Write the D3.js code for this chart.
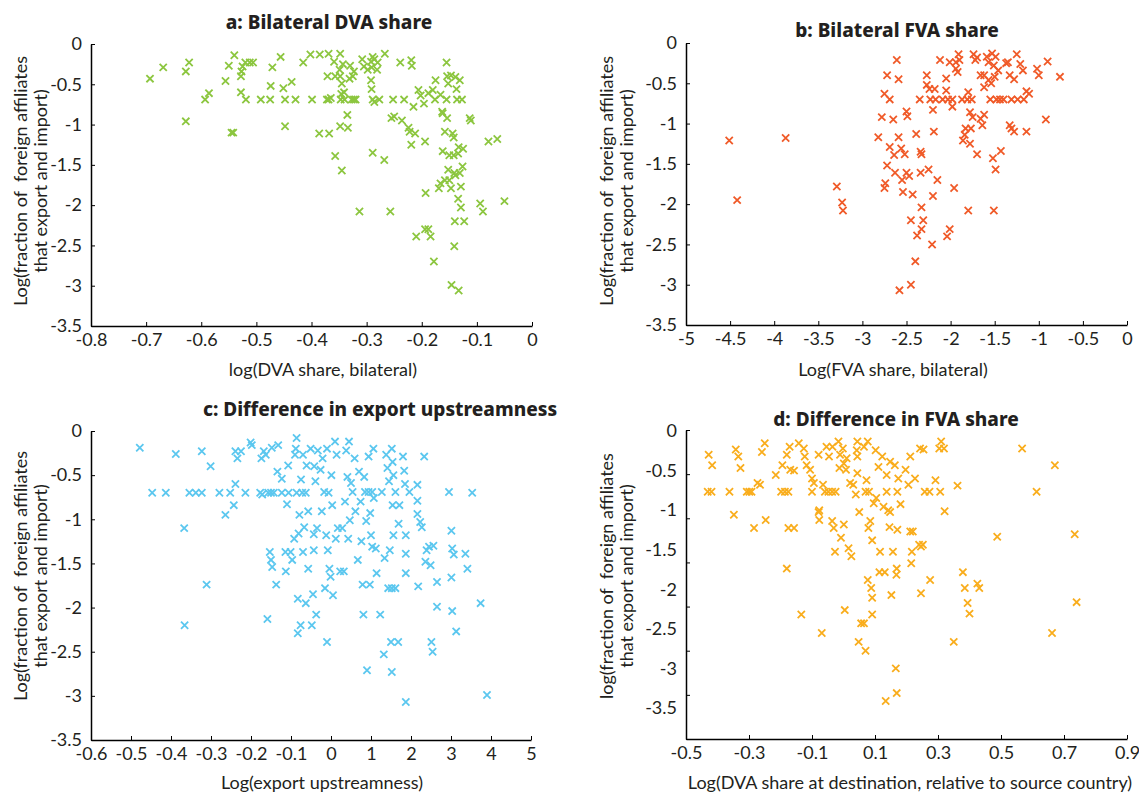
<!DOCTYPE html>
<html>
<head>
<meta charset="utf-8">
<script src="https://cdn.jsdelivr.net/npm/d3@7"></script>
<style>
  body { margin: 0; background: #fff; }
  text { font-family: Lato, "Noto Sans", sans-serif; fill: #231f20; }
</style>
</head>
<body>
<script>
// values (log scale values)
var dvaBilateral = [
  [-0.693,-0.43],[-0.669,-0.29],[-0.628,-0.34],[-0.622,-0.23],[-0.628,-0.96],[-0.593,-0.69],[-0.586,-0.61],[-0.556,-0.46],
  [-0.550,-0.27],[-0.540,-0.14],[-0.545,-1.10],[-0.542,-1.10],[-0.528,-0.40],[-0.527,-0.34],[-0.528,-0.60],[-0.525,-0.28],
  [-0.520,-0.23],[-0.519,-0.69],[-0.512,-0.23],[-0.506,-0.23],[-0.492,-0.69],[-0.475,-0.69],[-0.474,-0.52],[-0.471,-0.29],
  [-0.456,-0.16],[-0.451,-0.55],[-0.448,-0.69],[-0.448,-1.02],[-0.436,-0.47],[-0.429,-0.69],[-0.415,-0.23],[-0.402,-0.13],
  [-0.399,-0.69],[-0.385,-0.13],[-0.386,-1.11],[-0.369,-0.12],[-0.371,-0.40],[-0.368,-1.11],[-0.372,-0.69],[-0.369,-0.69],
  [-0.365,-0.67],[-0.359,-0.22],[-0.357,-0.40],[-0.357,-1.39],[-0.348,-0.12],[-0.349,-0.32],[-0.348,-0.40],[-0.346,-0.62],
  [-0.347,-0.69],[-0.345,-0.49],[-0.348,-1.02],[-0.345,-1.57],[-0.343,-0.25],[-0.341,-0.60],[-0.340,-0.69],[-0.335,-0.88],
  [-0.334,-1.04],[-0.331,-0.43],[-0.330,-0.27],[-0.325,-0.40],[-0.323,-0.34],[-0.327,-0.69],[-0.323,-0.69],[-0.320,-0.69],
  [-0.313,-2.08],[-0.308,-0.19],[-0.305,-0.28],[-0.298,-0.32],[-0.292,-0.22],[-0.289,-0.16],[-0.286,-0.19],[-0.291,-0.29],
  [-0.292,-0.45],[-0.291,-0.56],[-0.289,-0.69],[-0.286,-0.72],[-0.289,-1.35],[-0.280,-0.23],[-0.281,-0.32],[-0.277,-0.69],
  [-0.268,-1.44],[-0.267,-0.12],[-0.257,-2.08],[-0.252,-0.69],[-0.255,-0.92],[-0.250,-0.90],[-0.239,-0.23],[-0.236,-0.95],
  [-0.232,-0.69],[-0.224,-1.04],[-0.222,-1.09],[-0.219,-0.20],[-0.218,-0.27],[-0.219,-1.25],[-0.215,-0.78],[-0.212,-1.11],
  [-0.210,-2.39],[-0.206,-0.57],[-0.202,-0.64],[-0.196,-0.74],[-0.194,-1.21],[-0.193,-1.85],[-0.194,-2.30],[-0.188,-2.30],
  [-0.184,-2.39],[-0.188,-0.61],[-0.180,-0.57],[-0.176,-0.69],[-0.175,-0.45],[-0.178,-2.70],[-0.169,-1.79],[-0.166,-1.73],
  [-0.166,-0.63],[-0.163,-0.84],[-0.162,-0.86],[-0.162,-1.33],[-0.158,-1.09],[-0.158,-1.69],[-0.155,-0.23],[-0.154,-0.40],
  [-0.152,-0.49],[-0.155,-0.69],[-0.154,-0.92],[-0.152,-1.56],[-0.150,-1.69],[-0.147,-1.79],[-0.150,-1.38],[-0.147,-0.39],
  [-0.146,-2.99],[-0.144,-1.11],[-0.142,-1.16],[-0.142,-1.38],[-0.141,-1.60],[-0.139,-1.63],[-0.140,-2.20],[-0.141,-2.51],
  [-0.139,-0.41],[-0.137,-0.56],[-0.136,-0.69],[-0.134,-1.36],[-0.133,-1.28],[-0.134,-1.92],[-0.133,-3.06],[-0.131,-0.45],
  [-0.131,-1.60],[-0.129,-2.03],[-0.129,-1.77],[-0.127,-0.69],[-0.126,-1.52],[-0.125,-1.30],[-0.123,-2.20],[-0.113,-0.92],
  [-0.111,-0.95],[-0.094,-1.98],[-0.089,-2.08],[-0.079,-1.21],[-0.063,-1.18],[-0.050,-1.95]
];

var fvaBilateral = [
  [-4.51,-1.21],[-3.87,-1.18],[-4.42,-1.95],[-3.29,-1.78],[-3.23,-1.98],[-3.22,-2.08],[-2.82,-1.17],[-2.78,-0.92],
  [-2.75,-0.63],[-2.72,-0.40],[-2.74,-1.74],[-2.75,-1.80],[-2.72,-1.52],[-2.69,-1.29],[-2.69,-0.70],[-2.65,-0.95],
  [-2.64,-1.39],[-2.63,-1.61],[-2.61,-0.21],[-2.59,-1.17],[-2.59,-0.45],[-2.58,-3.07],[-2.56,-1.31],[-2.55,-1.70],
  [-2.54,-1.85],[-2.52,-1.38],[-2.50,-0.85],[-2.50,-1.61],[-2.49,-0.91],[-2.47,-1.65],[-2.45,-3.00],[-2.45,-2.20],
  [-2.43,-1.88],[-2.40,-2.71],[-2.39,-1.13],[-2.38,-2.39],[-2.35,-0.70],[-2.34,-1.35],[-2.33,-1.38],[-2.34,-1.61],
  [-2.33,-2.04],[-2.31,-2.20],[-2.33,-2.31],[-2.27,-0.52],[-2.27,-0.40],[-2.25,-1.57],[-2.23,-0.70],[-2.24,-0.57],
  [-2.21,-2.50],[-2.20,-0.83],[-2.20,-1.90],[-2.19,-1.10],[-2.18,-0.57],[-2.17,-0.70],[-2.15,-1.70],[-2.12,-0.21],
  [-2.09,-0.70],[-2.05,-0.44],[-2.05,-0.59],[-2.04,-2.40],[-2.03,-0.70],[-2.01,-0.24],[-2.01,-2.31],[-1.98,-0.70],
  [-1.98,-0.79],[-1.96,-1.80],[-1.94,-0.24],[-1.94,-0.32],[-1.92,-0.36],[-1.91,-0.14],[-1.90,-0.21],[-1.87,-0.70],
  [-1.86,-1.21],[-1.84,-1.14],[-1.83,-1.06],[-1.81,-0.70],[-1.80,-0.61],[-1.80,-2.08],[-1.78,-1.25],[-1.78,-0.86],
  [-1.77,-1.06],[-1.75,-0.92],[-1.76,-0.70],[-1.74,-0.14],[-1.72,-0.21],[-1.70,-1.38],[-1.70,-0.18],[-1.66,-0.40],
  [-1.66,-0.94],[-1.64,-1.02],[-1.62,-0.55],[-1.62,-0.89],[-1.62,-0.40],[-1.59,-0.17],[-1.57,-0.24],[-1.57,-0.46],
  [-1.55,-0.70],[-1.54,-0.50],[-1.53,-0.13],[-1.52,-1.43],[-1.51,-2.08],[-1.51,-0.28],[-1.50,-0.42],[-1.49,-1.57],
  [-1.49,-0.17],[-1.48,-0.70],[-1.46,-0.34],[-1.44,-0.70],[-1.43,-1.34],[-1.40,-0.70],[-1.37,-0.25],[-1.35,-0.24],
  [-1.33,-0.40],[-1.33,-1.02],[-1.31,-1.06],[-1.31,-0.70],[-1.28,-1.10],[-1.28,-0.45],[-1.25,-0.14],[-1.24,-0.70],
  [-1.21,-0.26],[-1.18,-0.34],[-1.17,-0.70],[-1.14,-0.60],[-1.14,-1.10],[-1.11,-0.63],[-1.02,-0.32],[-1.00,-0.40],
  [-0.92,-0.95],[-0.90,-0.23],[-0.76,-0.42]
];

var upstreamDiff = [
  [-0.478,-0.19],[-0.447,-0.70],[-0.413,-0.70],[-0.388,-0.26],[-0.367,-1.10],[-0.366,-2.20],[-0.354,-0.70],[-0.338,-0.70],
  [-0.323,-0.70],[-0.323,-0.23],[-0.311,-1.74],[-0.301,-0.40],[-0.279,-0.70],[-0.264,-0.95],[-0.252,-0.70],[-0.243,-0.84],
  [-0.239,-0.60],[-0.239,-0.23],[-0.234,-0.31],[-0.225,-0.23],[-0.214,-0.70],[-0.201,-0.13],[-0.198,-0.16],[-0.177,-0.70],
  [-0.172,-0.72],[-0.174,-0.31],[-0.168,-0.23],[-0.163,-0.27],[-0.159,-2.13],[-0.157,-0.70],[-0.153,-1.37],[-0.150,-1.46],
  [-0.147,-1.54],[-0.150,-0.70],[-0.143,-0.70],[-0.148,-0.19],[-0.137,-1.74],[-0.134,-0.46],[-0.132,-0.16],[-0.123,-0.54],
  [-0.123,-0.70],[-0.114,-1.37],[-0.113,-1.59],[-0.110,-0.83],[-0.107,-0.39],[-0.106,-0.70],[-0.101,-1.37],[-0.097,-1.46],
  [-0.092,-1.22],[-0.090,-0.27],[-0.088,-0.20],[-0.086,-0.08],[-0.086,-0.70],[-0.083,-1.90],[-0.083,-2.29],[-0.081,-1.16],
  [-0.079,-0.95],[-0.076,-2.20],[-0.075,-0.55],[-0.072,-0.70],[-0.070,-0.27],[-0.070,-1.37],[-0.067,-1.09],[-0.063,-0.70],
  [-0.063,-1.95],[-0.061,-0.39],[-0.057,-1.56],[-0.057,-0.91],[-0.051,-0.20],[-0.048,-2.20],[-0.045,-1.85],[-0.043,-1.17],
  [-0.043,-1.35],[-0.042,-0.40],[-0.039,-0.57],[-0.037,-2.08],[-0.035,-1.10],[-0.033,-0.22],[-0.026,-0.44],[-0.023,-0.91],
  [-0.021,-0.31],[-0.017,-0.69],[-0.015,-1.78],[-0.012,-1.18],[-0.010,-2.39],[-0.010,-0.20],[-0.008,-1.35],[-0.006,-0.70],
  [-0.004,-1.56],[-0.001,-1.65],[0.01,-0.50],[0.03,-0.84],[0.05,-1.86],[0.10,-0.12],[0.12,-1.22],[0.14,-0.27],
  [0.17,-1.10],[0.23,-1.59],[0.28,-1.10],[0.32,-1.59],[0.35,-0.80],[0.38,-0.22],[0.41,-0.52],[0.43,-1.22],
  [0.45,-0.12],[0.47,-1.01],[0.50,-0.59],[0.54,-0.69],[0.59,-0.31],[0.61,-0.91],[0.67,-1.46],[0.70,-0.46],
  [0.74,-0.80],[0.76,-1.25],[0.79,-1.74],[0.81,-2.08],[0.83,-0.52],[0.85,-0.69],[0.94,-0.69],[1.03,-0.69],
  [0.88,-1.02],[0.90,-2.71],[0.94,-0.29],[0.97,-1.74],[0.98,-0.93],[1.00,-1.18],[1.03,-1.31],[1.06,-0.20],
  [1.07,-0.76],[1.12,-1.33],[1.14,-1.61],[1.23,-2.08],[1.27,-0.69],[1.32,-2.53],[1.34,-1.44],[1.38,-0.27],
  [1.41,-0.42],[1.43,-1.78],[1.45,-0.57],[1.47,-1.35],[1.50,-2.39],[1.52,-2.73],[1.52,-0.20],[1.54,-0.35],
  [1.56,-0.50],[1.52,-1.78],[1.61,-1.78],[1.54,-0.84],[1.56,-1.18],[1.61,-0.69],[1.68,-2.39],[1.69,-1.05],
  [1.71,-0.84],[1.80,-0.29],[1.83,-0.45],[1.85,-0.60],[1.87,-1.18],[1.87,-1.61],[1.87,-1.39],[1.87,-3.07],
  [1.96,-0.69],[2.16,-0.61],[2.16,-0.79],[2.16,-0.94],[2.18,-1.76],[2.23,-1.03],[2.27,-1.09],[2.33,-0.29],
  [2.36,-1.48],[2.39,-1.35],[2.45,-1.31],[2.49,-1.52],[2.51,-2.39],[2.54,-2.50],[2.56,-1.30],[2.65,-1.71],
  [2.65,-1.99],[2.95,-0.69],[3.01,-1.13],[3.01,-1.66],[3.03,-1.33],[3.03,-2.04],[3.07,-1.40],[3.13,-2.27],
  [3.36,-1.39],[3.41,-1.56],[3.53,-0.70],[3.74,-1.95],[3.90,-2.99]
];

var fvaDiff = [
  [-0.428,-0.28],[-0.417,-0.40],[-0.431,-0.70],[-0.419,-0.70],[-0.362,-0.70],[-0.348,-0.96],[-0.342,-0.22],[-0.334,-0.30],
  [-0.327,-0.43],[-0.307,-0.70],[-0.299,-0.70],[-0.292,-0.70],[-0.284,-1.11],[-0.273,-0.60],[-0.265,-0.62],[-0.259,-0.25],
  [-0.250,-0.15],[-0.247,-1.02],[-0.215,-0.51],[-0.198,-0.70],[-0.186,-0.70],[-0.194,-0.40],[-0.180,-0.28],[-0.180,-1.57],
  [-0.175,-0.70],[-0.175,-1.11],[-0.171,-0.19],[-0.169,-0.45],[-0.157,-0.46],[-0.157,-1.11],[-0.142,-0.15],[-0.134,-2.09],
  [-0.126,-0.21],[-0.123,-0.30],[-0.117,-0.40],[-0.106,-0.45],[-0.100,-0.55],[-0.100,-0.70],[-0.094,-0.60],[-0.079,-0.28],
  [-0.077,-0.91],[-0.077,-1.02],[-0.079,-0.93],[-0.069,-2.30],[-0.065,-0.62],[-0.059,-0.70],[-0.048,-0.70],[-0.036,-0.70],
  [-0.025,-0.70],[-0.054,-0.19],[-0.046,-0.30],[-0.036,-1.03],[-0.031,-1.11],[-0.035,-0.19],[-0.027,-1.38],[-0.016,-0.13],
  [-0.013,-0.43],[-0.011,-0.28],[-0.008,-1.22],[-0.002,-0.21],[0.001,-1.07],[0.001,-0.38],[0.008,-0.45],[0.004,-2.04],
  [0.010,-0.32],[0.016,-1.34],[0.025,-1.43],[0.021,-0.60],[0.031,-0.62],[0.039,-0.73],[0.042,-0.23],[0.044,-0.13],
  [0.044,-0.30],[0.044,-0.49],[0.048,-2.40],[0.050,-0.93],[0.056,-2.19],[0.065,-2.19],[0.065,-0.19],[0.070,-0.70],
  [0.081,-0.70],[0.070,-2.50],[0.073,-0.57],[0.077,-0.13],[0.077,-1.70],[0.079,-1.11],[0.085,-1.03],[0.088,-1.79],
  [0.091,-1.90],[0.091,-2.09],[0.091,-1.25],[0.096,-0.83],[0.102,-0.23],[0.104,-0.77],[0.111,-0.42],[0.114,-1.61],
  [0.116,-1.38],[0.123,-0.30],[0.127,-0.87],[0.131,-1.61],[0.134,-3.07],[0.137,-0.51],[0.137,-0.70],[0.142,-0.91],
  [0.148,-0.93],[0.146,-1.10],[0.148,-0.36],[0.152,-1.87],[0.157,-1.38],[0.163,-0.40],[0.166,-2.70],[0.169,-2.98],
  [0.168,-1.64],[0.169,-1.57],[0.171,-1.13],[0.171,-0.70],[0.174,-0.55],[0.181,-0.84],[0.197,-0.45],[0.206,-0.62],
  [0.212,-0.30],[0.212,-1.15],[0.220,-1.15],[0.215,-1.51],[0.217,-1.38],[0.227,-0.55],[0.243,-0.21],[0.254,-0.22],
  [0.240,-1.30],[0.246,-1.32],[0.252,-1.30],[0.246,-1.85],[0.258,-0.70],[0.273,-0.70],[0.275,-1.70],[0.292,-0.57],
  [0.307,-0.70],[0.304,-0.21],[0.310,-0.13],[0.319,-0.21],[0.321,-0.92],[0.350,-2.40],[0.362,-0.63],[0.379,-1.61],
  [0.385,-1.79],[0.394,-1.96],[0.400,-2.08],[0.425,-1.74],[0.431,-1.79],[0.488,-1.21],[0.567,-0.21],[0.613,-0.70],
  [0.662,-2.30],[0.671,-0.40],[0.734,-1.18],[0.740,-1.95]
];

// tick values per panel
var yTicks = [0, -0.5, -1, -1.5, -2, -2.5, -3, -3.5];
var xTicksA = [-0.8, -0.7, -0.6, -0.5, -0.4, -0.3, -0.2, -0.1, 0];
var xTicksB = [-5, -4.5, -4, -3.5, -3, -2.5, -2, -1.5, -1, -0.5, 0];
var xTicksC = [-0.6, -0.5, -0.4, -0.3, -0.2, -0.1, 0, 1, 2, 3, 4, 5];
var xTicksD = [-0.5, -0.3, -0.1, 0.1, 0.3, 0.5, 0.7, 0.9];

var colors = { a: "#8cc63f", b: "#f05a28", c: "#5bc7ef", d: "#f9ad1c" };

var svg = d3.select("body").append("svg")
  .attr("width", 1139)
  .attr("height", 793);

function crossPath(s) {
  return "M" + (-s) + "," + (-s) + "L" + s + "," + s + "M" + (-s) + "," + s + "L" + s + "," + (-s);
}

function drawPanel(p) {
  var x = d3.scaleLinear().domain(p.xDomain).range(p.xRange);
  var y = d3.scaleLinear().domain([0, -3.5]).range(p.yRange);

  var g = svg.append("g");

  // points
  g.selectAll("path.pt")
    .data(p.data)
    .enter().append("path")
      .attr("class", "pt")
      .attr("d", crossPath(3.6))
      .attr("transform", function (d) { return "translate(" + x(d[0]) + "," + y(d[1]) + ")"; })
      .style("stroke", p.color)
      .style("stroke-width", 1.8)
      .style("fill", "none");

  var fmt = function (d) { return String(d); };

  var xAxis = d3.axisBottom(x).tickValues(p.xTicks).tickFormat(fmt)
    .tickSizeInner(-4).tickSizeOuter(0).tickPadding(7);
  g.append("g").attr("transform", "translate(0," + p.yRange[1] + ")").call(xAxis);

  if (p.yLabelRange) {
    // tick marks on the data scale, labels placed on their own scale
    var yMarks = d3.axisLeft(y).tickValues(yTicks).tickFormat("")
      .tickSizeInner(-4).tickSizeOuter(0);
    var ly = d3.scaleLinear().domain([0, -3.5]).range(p.yLabelRange);
    var yLabels = d3.axisLeft(ly).tickValues(yTicks).tickFormat(fmt)
      .tickSize(0).tickPadding(9);
    g.append("g").attr("transform", "translate(" + p.xRange[0] + ",0)").call(yMarks);
    var lg = g.append("g").attr("transform", "translate(" + p.xRange[0] + ",0)").call(yLabels);
    lg.select(".domain").remove();
  } else {
    var yAxis = d3.axisLeft(y).tickValues(yTicks).tickFormat(fmt)
      .tickSizeInner(-4).tickSizeOuter(0).tickPadding(9);
    g.append("g").attr("transform", "translate(" + p.xRange[0] + ",0)").call(yAxis);
  }

  g.selectAll(".domain").style("stroke", "#000").style("stroke-width", 1.5);
  g.selectAll(".tick line").style("stroke", "#000");
  g.selectAll(".tick text").style("font-size", "18px").style("fill", "#231f20")
    .style("font-family", "Lato, sans-serif");

  // title
  g.append("text")
    .attr("x", p.titlePos[0]).attr("y", p.titlePos[1])
    .attr("text-anchor", "middle")
    .style("font-family", "'Noto Sans', sans-serif")
    .style("font-size", "19px").style("font-weight", "800")
    .text(p.title);

  // x label
  g.append("text")
    .attr("x", p.xLabelPos[0]).attr("y", p.xLabelPos[1])
    .attr("text-anchor", "middle")
    .style("font-size", "18px")
    .text(p.xLabel);

  // y label, two lines (keep the double space)
  var cy = p.yLabelPos[2];
  [p.yLabel1, "that export and import)"].forEach(function (t, i) {
    var lx = p.yLabelPos[i];
    g.append("text")
      .attr("transform", "translate(" + lx + "," + cy + ") rotate(-90)")
      .attr("text-anchor", "middle")
      .attr("xml:space", "preserve")
      .style("white-space", "pre")
      .style("font-size", "18px")
      .text(t);
  });
}

drawPanel({
  data: dvaBilateral, color: colors.a,
  xDomain: [-0.8, 0], xRange: [91, 532], yRange: [44, 326], xTicks: xTicksA,
  title: "a: Bilateral DVA share", titlePos: [329, 29],
  xLabel: "log(DVA share, bilateral)", xLabelPos: [323, 376],
  yLabel1: "Log(fraction of  foreign affiliates", yLabelPos: [27, 47, 181]
});

drawPanel({
  data: fvaBilateral, color: colors.b,
  xDomain: [-5, 0], xRange: [686, 1127], yRange: [43, 325], xTicks: xTicksB,
  title: "b: Bilateral FVA share", titlePos: [897, 37],
  xLabel: "Log(FVA share, bilateral)", xLabelPos: [893, 376],
  yLabel1: "Log(fraction of  foreign affiliates", yLabelPos: [613, 633, 181]
});

drawPanel({
  data: upstreamDiff, color: colors.c,
  xDomain: [-0.6, 0, 5], xRange: [91, 91 + 440 * 6 / 11, 531], yRange: [431, 740], xTicks: xTicksC,
  title: "c: Difference in export upstreamness", titlePos: [380, 416],
  xLabel: "Log(export upstreamness)", xLabelPos: [322, 789],
  yLabel1: "Log(fraction of  foreign affiliates", yLabelPos: [27, 47, 576]
});

drawPanel({
  data: fvaDiff, color: colors.d,
  xDomain: [-0.5, 0.9], xRange: [686, 1127], yRange: [430, 739], yLabelRange: [431, 708], xTicks: xTicksD,
  title: "d: Difference in FVA share", titlePos: [896, 426],
  xLabel: "Log(DVA share at destination, relative to source country)", xLabelPos: [910, 789],
  yLabel1: "log(fraction of  foreign affiliates", yLabelPos: [613, 633, 576]
});
</script>
</body>
</html>
